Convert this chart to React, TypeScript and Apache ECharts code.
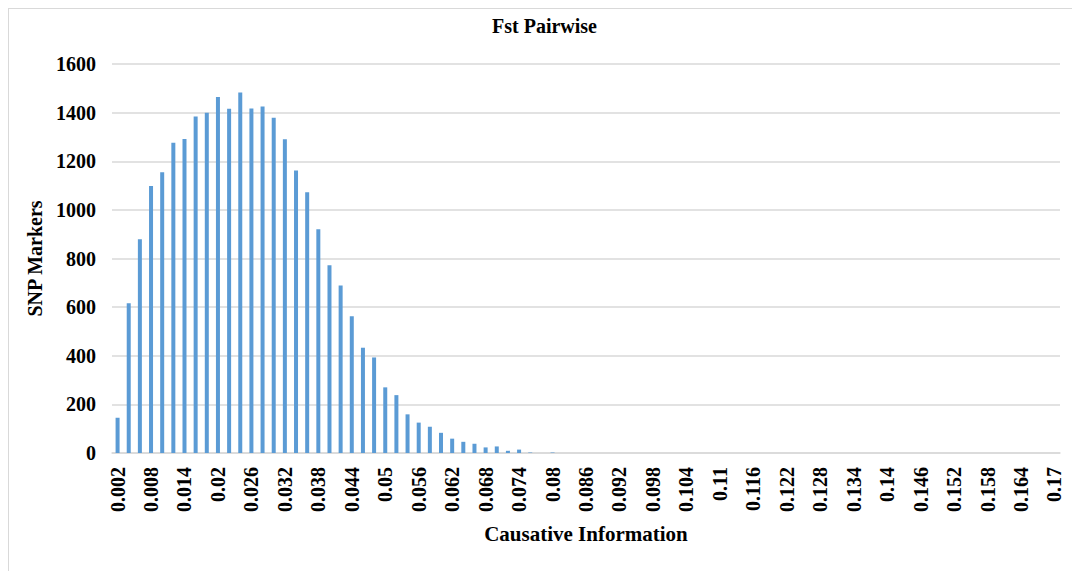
import React, { useEffect, useRef } from "react";
import * as echarts from "echarts";

const categories: string[] = [
  "0.002","0.004","0.006","0.008","0.01","0.012","0.014","0.016","0.018","0.02",
  "0.022","0.024","0.026","0.028","0.03","0.032","0.034","0.036","0.038","0.04",
  "0.042","0.044","0.046","0.048","0.05","0.052","0.054","0.056","0.058","0.06",
  "0.062","0.064","0.066","0.068","0.07","0.072","0.074","0.076","0.078","0.08",
  "0.082","0.084","0.086","0.088","0.09","0.092","0.094","0.096","0.098","0.1",
  "0.102","0.104","0.106","0.108","0.11","0.112","0.114","0.116","0.118","0.12",
  "0.122","0.124","0.126","0.128","0.13","0.132","0.134","0.136","0.138","0.14",
  "0.142","0.144","0.146","0.148","0.15","0.152","0.154","0.156","0.158","0.16",
  "0.162","0.164","0.166","0.168","0.17",
];

const snpMarkers: number[] = [
  145, 616, 879, 1098, 1155, 1276, 1292, 1384, 1400, 1464,
  1416, 1483, 1417, 1425, 1379, 1290, 1162, 1072, 920, 772,
  689, 562, 433, 393, 270, 238, 159, 125, 108, 83,
  59, 46, 38, 23, 27, 9, 14, 2, 0, 2,
  0, 0, 0, 0, 0, 0, 0, 0, 0, 0,
  0, 0, 0, 0, 0, 0, 0, 0, 0, 0,
  0, 0, 0, 0, 0, 0, 0, 0, 0, 0,
  0, 0, 0, 0, 0, 0, 0, 0, 0, 0,
  0, 0, 0, 0, 0,
];

const FONT = "'Liberation Serif', 'Times New Roman', serif";

export default function App() {
  const ref = useRef<HTMLDivElement>(null);
  useEffect(() => {
    if (!ref.current) return;
    const chart = echarts.init(ref.current, undefined, { renderer: "svg" });
    chart.setOption({
      animation: false,
      backgroundColor: "#ffffff",
      title: {
        text: "Fst Pairwise",
        left: "center",
        top: 2,
        textStyle: { fontFamily: FONT, fontWeight: "bold", fontSize: 20, color: "#000" },
      },
      grid: { left: 103, right: 20, top: 55, bottom: 118, containLabel: false },
      xAxis: {
        type: "category",
        data: categories,
        name: "Causative Information",
        nameLocation: "middle",
        nameGap: 70,
        nameTextStyle: { fontFamily: FONT, fontWeight: "bold", fontSize: 21, color: "#000" },
        axisLine: { show: true, lineStyle: { color: "#d9d9d9", width: 1.5 } },
        axisTick: { show: false },
        axisLabel: {
          interval: 2,
          rotate: 90,
          margin: 14,
          fontFamily: FONT,
          fontWeight: "bold",
          fontSize: 20,
          color: "#000",
        },
        splitLine: { show: false },
      },
      yAxis: {
        type: "value",
        min: 0,
        max: 1600,
        interval: 200,
        name: "SNP Markers",
        nameLocation: "middle",
        nameGap: 65,
        nameRotate: 90,
        nameTextStyle: { fontFamily: FONT, fontWeight: "bold", fontSize: 20, color: "#000" },
        axisLine: { show: false },
        axisTick: { show: false },
        axisLabel: {
          margin: 16,
          formatter: (v: number) => String(v),
          fontFamily: FONT,
          fontWeight: "bold",
          fontSize: 20,
          color: "#000",
        },
        splitLine: { lineStyle: { color: "#d9d9d9", width: 1.5 } },
      },
      series: [
        {
          type: "bar",
          data: snpMarkers,
          barWidth: 4,
          itemStyle: { color: "#5b9bd5" },
        },
      ],
    });
    return () => chart.dispose();
  }, []);
  return (
    <div
      style={{
        width: 1072,
        height: 563,
        boxSizing: "border-box",
        borderLeft: "1px solid #d9d9d9",
        borderTop: "1px solid #d9d9d9",
        overflow: "hidden",
      }}
    >
      <div ref={ref} style={{ width: 1071, height: 562 }} />
    </div>
  );
}
